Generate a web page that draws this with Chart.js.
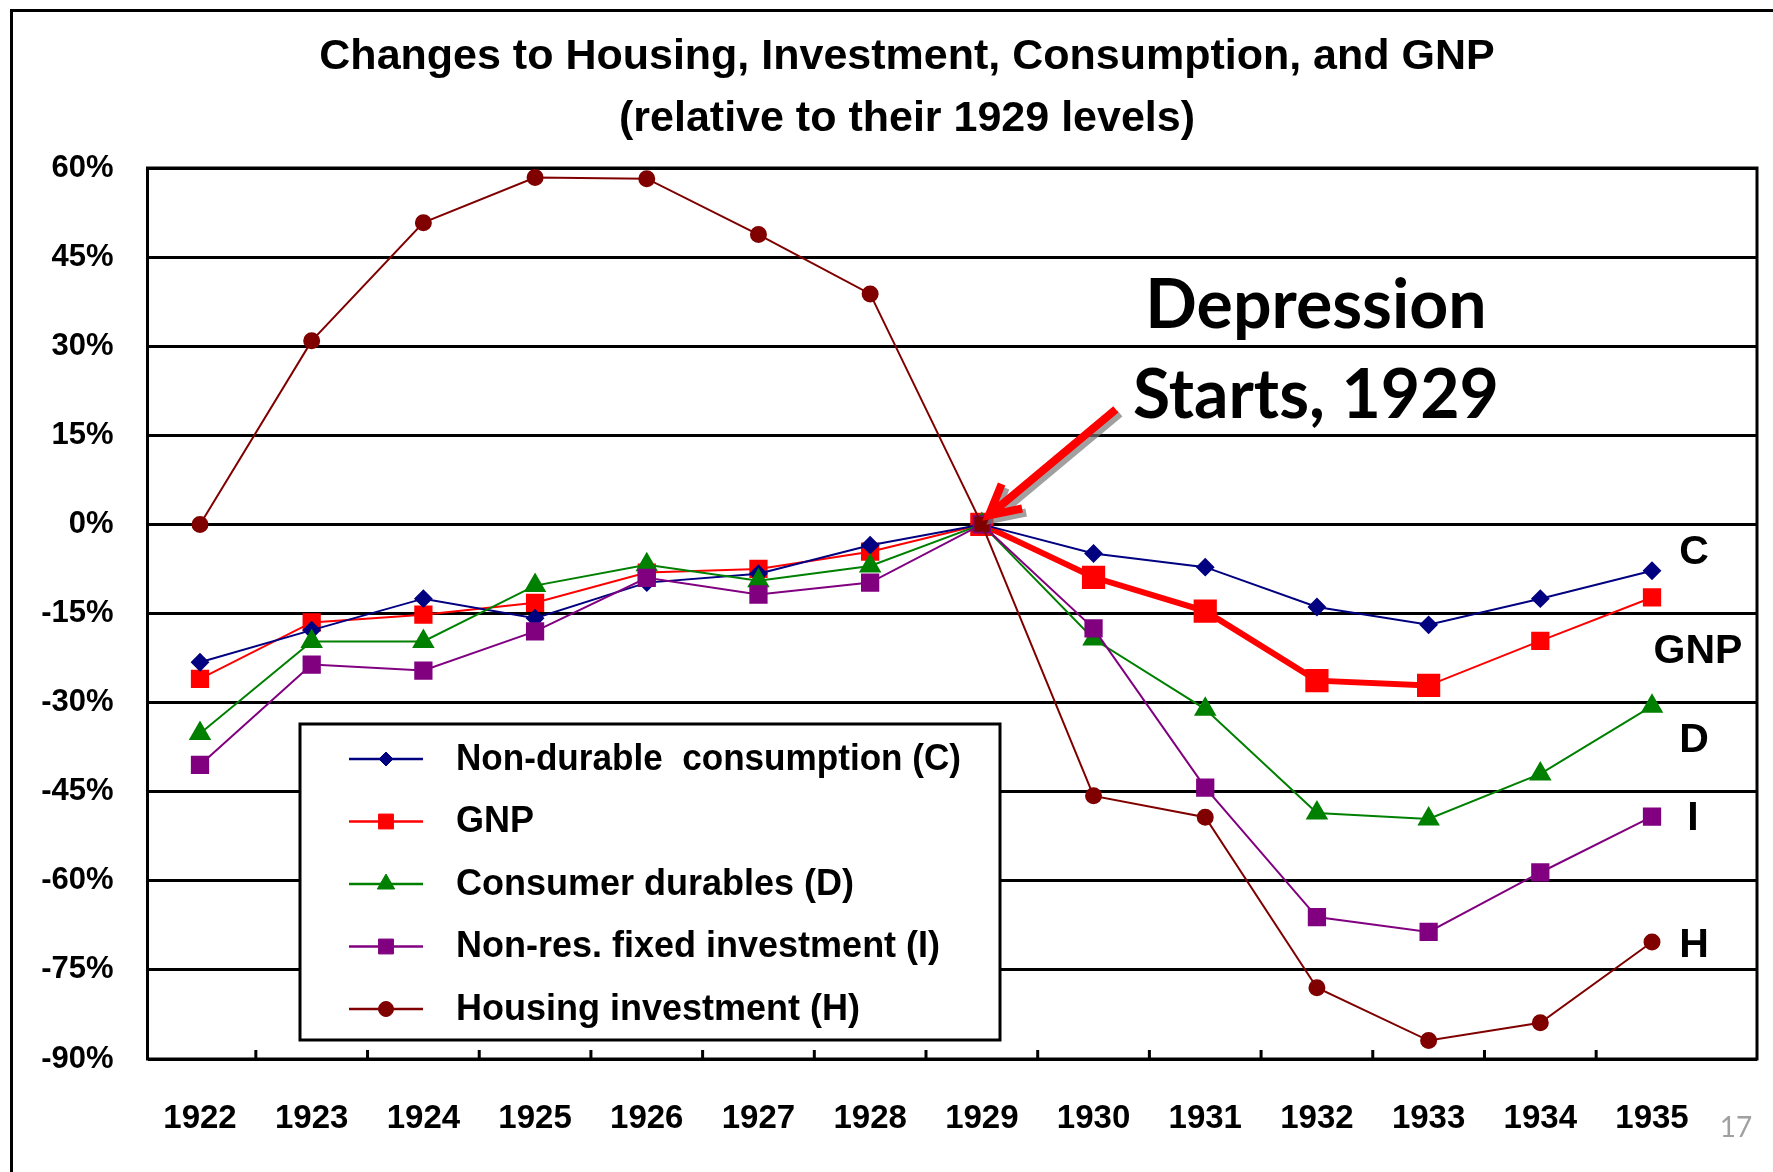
<!DOCTYPE html>
<html>
<head>
<meta charset="utf-8">
<title>Changes to Housing, Investment, Consumption, and GNP</title>
<script src="https://cdn.jsdelivr.net/npm/chart.js@4.4.1/dist/chart.umd.min.js"></script>
<style>
  html, body { margin: 0; padding: 0; background: #fff; }
  #wrap { width: 1773px; height: 1172px; }
</style>
</head>
<body>
<div id="wrap"><canvas id="gnpChart" width="1773" height="1172"></canvas></div>
<script>
// values in % relative to 1929
const years       = [1922, 1923, 1924, 1925, 1926, 1927, 1928, 1929, 1930, 1931, 1932, 1933, 1934, 1935];
const consumption = [-23.2, -17.8, -12.5, -15.8, -9.8, -8.3, -3.5, 0, -4.9, -7.2, -13.9, -16.9, -12.5, -7.8];
const gnp         = [-26.0, -16.5, -15.2, -13.2, -8.1, -7.5, -4.6, 0, -8.9, -14.6, -26.3, -27.1, -19.6, -12.3];
const durables    = [-35.2, -19.7, -19.7, -10.3, -6.8, -9.5, -7.0, 0, -19.3, -31.1, -48.6, -49.6, -42.0, -30.6];
const investment  = [-40.5, -23.6, -24.6, -18.0, -9.0, -11.8, -9.8, 0, -17.5, -44.3, -66.1, -68.6, -58.6, -49.2];
const housing     = [0, 30.9, 50.8, 58.4, 58.2, 48.8, 38.8, 0, -45.7, -49.3, -78.0, -86.9, -83.9, -70.3];
const yTicks      = [60, 45, 30, 15, 0, -15, -30, -45, -60, -75, -90];
const seriesNames = ['Non-durable  consumption (C)', 'GNP', 'Consumer durables (D)', 'Non-res. fixed investment (I)', 'Housing investment (H)'];
const endLabels   = ['C', 'GNP', 'D', 'I', 'H'];

const FONT = "'Liberation Sans', Arial, Helvetica, sans-serif";

function toPoints(vals) {
    return years.map((yr, i) => ({ x: yr, y: vals[i] }));
}

// the depression years of GNP are drawn heavier
const crashYear = yr => yr >= 1929 && yr <= 1933;

const decorations = {
    id: 'decorations',
    beforeDatasetsDraw(chart) {
        const { ctx, chartArea: a, scales: { x } } = chart;
        ctx.save();
        ctx.strokeStyle = '#000';
        ctx.lineWidth = 3;
        ctx.strokeRect(a.left, a.top, a.right - a.left, a.bottom - a.top);
        // small tick marks between the years, pointing up into the plot
        ctx.beginPath();
        years.slice(0, -1).forEach(yr => {
            const px = x.getPixelForValue(yr + 0.5);
            ctx.moveTo(px, a.bottom);
            ctx.lineTo(px, a.bottom - 9);
        });
        ctx.stroke();
        ctx.restore();
    },
    afterDatasetsDraw(chart) {
        const ctx = chart.ctx;
        const { x, y } = chart.scales;
        ctx.save();

        // legend box
        ctx.fillStyle = '#fff';
        ctx.fillRect(300, 724, 700, 316);
        ctx.strokeStyle = '#000';
        ctx.lineWidth = 3;
        ctx.strokeRect(300, 724, 700, 316);
        const legendRadius = [7, 10.5, 10, 10.5, 7.5];
        chart.data.datasets.forEach((ds, i) => {
            const ry = 759 + i * 62.5;
            ctx.strokeStyle = ds.borderColor;
            ctx.lineWidth = 2.5;
            ctx.beginPath();
            ctx.moveTo(349, ry);
            ctx.lineTo(423, ry);
            ctx.stroke();
            ctx.fillStyle = ds.borderColor;
            ctx.lineWidth = 1;
            const style = Array.isArray(ds.pointStyle) ? ds.pointStyle[0] : ds.pointStyle;
            Chart.helpers.drawPoint(ctx, { pointStyle: style, radius: legendRadius[i], rotation: 0, borderWidth: 1 }, 386, ry);
            ctx.fillStyle = '#000';
            ctx.font = 'bold 36px ' + FONT;
            ctx.textAlign = 'left';
            ctx.textBaseline = 'middle';
            ctx.fillText(ds.label, 456, ry + 1, 505);
        });

        // series letters at the right end
        const labelPos = [[1694, 553], [1698, 652], [1694, 741], [1693, 819], [1694, 946]];
        ctx.fillStyle = '#000';
        ctx.font = 'bold 41px ' + FONT;
        ctx.textAlign = 'center';
        ctx.textBaseline = 'middle';
        endLabels.forEach((t, i) => ctx.fillText(t, labelPos[i][0], labelPos[i][1]));

        // arrow pointing at 1929
        const tipX = x.getPixelForValue(1929) + 7;
        const tipY = y.getPixelForValue(0) - 9;
        const dx = 127, dy = -106;
        const len = Math.hypot(dx, dy), ux = dx / len, uy = dy / len;
        const bx = tipX + ux * 30, by = tipY + uy * 30;
        const arrowPath = () => {
            ctx.beginPath();
            ctx.moveTo(tipX + dx, tipY + dy);
            ctx.lineTo(tipX + ux * 6, tipY + uy * 6);
            ctx.moveTo(bx - uy * 16, by + ux * 16);
            ctx.lineTo(tipX, tipY);
            ctx.lineTo(bx + uy * 16, by - ux * 16);
        };
        ctx.lineWidth = 8;
        ctx.lineJoin = 'miter';
        ctx.save();
        ctx.translate(4, 4);
        ctx.strokeStyle = 'rgba(120,120,120,0.7)';
        arrowPath();
        ctx.stroke();
        ctx.restore();
        ctx.strokeStyle = '#ff0000';
        arrowPath();
        ctx.stroke();

        ctx.fillStyle = '#000';
        ctx.font = 'bold 68px Lato, Carlito, Calibri, sans-serif';
        ctx.textAlign = 'center';
        ctx.textBaseline = 'alphabetic';
        ctx.fillText('Depression', 1316, 328, 344);
        ctx.fillText('Starts, 1929', 1316, 418, 366);

        // slide frame and page number
        ctx.strokeStyle = '#000';
        ctx.lineWidth = 3;
        ctx.beginPath();
        ctx.moveTo(11.5, 1172);
        ctx.lineTo(11.5, 10.5);
        ctx.lineTo(1773, 10.5);
        ctx.stroke();
        ctx.fillStyle = '#a0a0a0';
        ctx.font = '28px Lato, Carlito, Calibri, sans-serif';
        ctx.fillText('17', 1736, 1137);
        ctx.restore();
    }
};

const ctx = document.getElementById('gnpChart').getContext('2d');
const chart = new Chart(ctx, {
    type: 'line',
    data: {
        datasets: [
            {
                label: seriesNames[0],
                data: toPoints(consumption),
                borderColor: '#000080',
                backgroundColor: '#000080',
                borderWidth: 2,
                pointStyle: 'rectRot',
                pointRadius: 8,
                order: 3
            },
            {
                label: seriesNames[1],
                data: toPoints(gnp),
                borderColor: '#ff0000',
                backgroundColor: '#ff0000',
                borderWidth: 2,
                segment: {
                    borderWidth: c => (crashYear(years[c.p0DataIndex]) && crashYear(years[c.p1DataIndex])) ? 6 : 2
                },
                pointStyle: 'rect',
                pointRadius: years.map(yr => crashYear(yr) ? 15 : 11.5),
                order: 4
            },
            {
                label: seriesNames[2],
                data: toPoints(durables),
                borderColor: '#008000',
                backgroundColor: '#008000',
                borderWidth: 2,
                pointStyle: 'triangle',
                pointRadius: 11,
                order: 2
            },
            {
                label: seriesNames[3],
                data: toPoints(investment),
                borderColor: '#800080',
                backgroundColor: '#800080',
                borderWidth: 2,
                pointStyle: 'rect',
                pointRadius: 11.5,
                order: 1
            },
            {
                label: seriesNames[4],
                data: toPoints(housing),
                borderColor: '#800000',
                backgroundColor: '#800000',
                borderWidth: 2,
                pointStyle: years.map(yr => yr === 1929 ? 'rect' : 'circle'),
                pointRadius: years.map(yr => yr === 1929 ? 9 : 7.5),
                order: 0
            }
        ]
    },
    options: {
        responsive: false,
        animation: false,
        devicePixelRatio: 1,
        layout: { padding: { top: 0, right: 0, bottom: 0, left: 41 } },
        elements: {
            line: { tension: 0, fill: false },
            point: { borderWidth: 1, hoverRadius: 8 }
        },
        plugins: {
            legend: { display: false },
            tooltip: { enabled: false },
            title: {
                display: true,
                text: ['Changes to Housing, Investment, Consumption, and GNP', '(relative to their 1929 levels)'],
                color: '#000',
                font: { family: FONT, size: 43, weight: 'bold', lineHeight: 1.442 },
                padding: { top: 26, bottom: 18 }
            }
        },
        scales: {
            x: {
                type: 'linear',
                min: 1921.53,
                max: 1935.94,
                afterBuildTicks: scale => { scale.ticks = years.map(v => ({ value: v })); },
                afterFit: scale => { scale.height = 113; },
                grid: { display: false },
                border: { display: false },
                ticks: {
                    autoSkip: false,
                    maxRotation: 0,
                    padding: 32,
                    color: '#000',
                    font: { family: FONT, size: 33, weight: 'bold' },
                    callback: v => String(v)
                }
            },
            y: {
                min: -90,
                max: 60,
                afterBuildTicks: scale => { scale.ticks = yTicks.map(v => ({ value: v })); },
                afterFit: scale => { scale.width = 106.5; },
                grid: { color: '#000', lineWidth: 3, drawTicks: false },
                border: { display: false },
                ticks: {
                    padding: 34,
                    color: '#000',
                    font: { family: FONT, size: 31, weight: 'bold' },
                    callback: v => v + '%'
                }
            },
            // empty right-hand axis: keeps a 16px margin right of the plot
            yMargin: {
                position: 'right',
                display: true,
                afterFit: scale => { scale.width = 16; },
                grid: { display: false },
                border: { display: false },
                ticks: { display: false }
            }
        }
    },
    plugins: [decorations]
});
</script>
</body>
</html>
